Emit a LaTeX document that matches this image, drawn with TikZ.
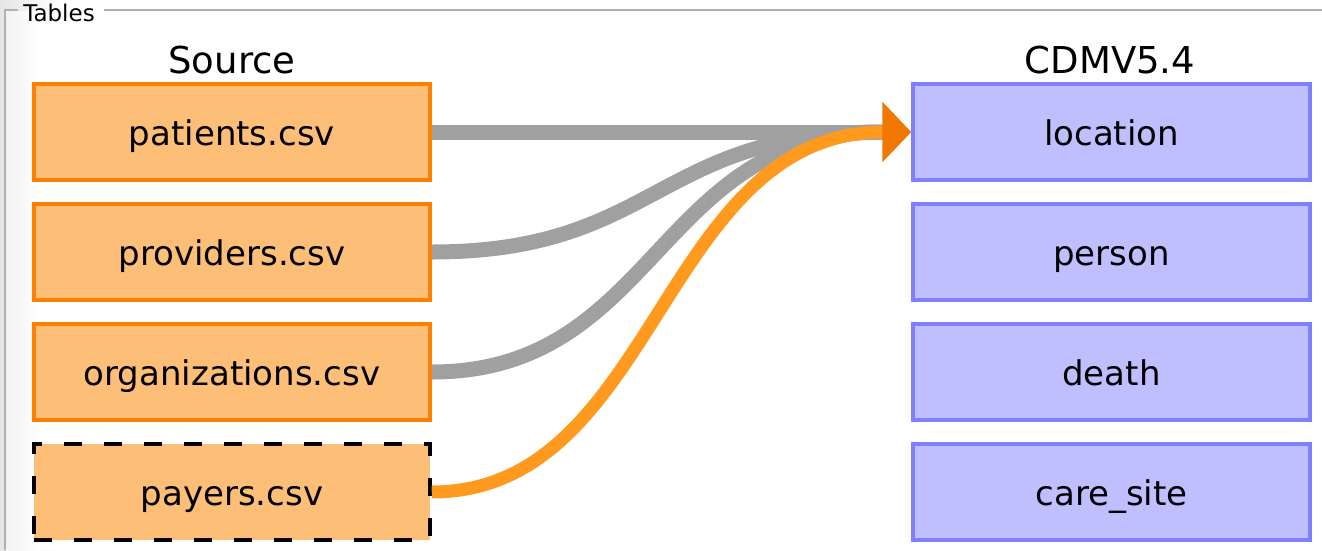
\documentclass[tikz,border=0pt]{standalone}
\usepackage{fontspec}
\setmainfont{DejaVu Sans}
\usetikzlibrary{arrows.meta,positioning}
\definecolor{srcfill}{HTML}{FDBE78}
\definecolor{srcdraw}{HTML}{FF7F00}
\definecolor{cdmfill}{HTML}{BFBFFF}
\definecolor{cdmdraw}{HTML}{8080FF}
\definecolor{linkgray}{HTML}{A0A0A0}
\definecolor{linkorange}{HTML}{FF9A1E}
\definecolor{tiporange}{HTML}{F07800}
\definecolor{framegray}{HTML}{B0B0B0}

\begin{document}
\begin{tikzpicture}[x=1pt, y=-1pt,
  srcbox/.style={draw=srcdraw, fill=srcfill, line width=3.5pt, minimum width=396pt, minimum height=96pt,
    inner sep=0pt, text height=30pt, text depth=4pt, font=\fontsize{34}{40}\selectfont},
  cdmbox/.style={draw=cdmdraw, fill=cdmfill, line width=3.5pt, minimum width=397pt, minimum height=96pt,
    inner sep=0pt, text height=30pt, text depth=4pt, font=\fontsize{34}{40}\selectfont},
  coltitle/.style={anchor=base, font=\fontsize{37}{44}\selectfont},
  maplink/.style={linkgray, line width=15pt},
  mapsel/.style={linkorange, line width=13pt, -{Triangle[length=29pt 0 0, width=59pt 0 0, color=tiporange]}}]

  \useasboundingbox (0,0) rectangle (1322,550);

  % Panel background and frame
  \shade[left color=black!10, right color=white] (0,0) rectangle (60,550);
  \fill[white] (6,11) rectangle (1322,550);
  \shade[left color=black!5, right color=white] (6,11) rectangle (40,550);
  \draw[framegray, line width=2pt] (18,10) -- (5,10) -- (5,550);
  \draw[framegray, line width=2pt] (104,10) -- (1322,10);
  \node[anchor=base, font=\fontsize{23}{28}\selectfont] (tables) at (59,21) {Tables};

  % Column titles
  \node[coltitle] (srctitle) at (232,73) {Source};
  \node[coltitle] (cdmtitle) at (1110,73) {CDMV5.4};

  % Source tables
  \node[srcbox] (patients) at (232,132) {patients.csv};
  \node[srcbox] (providers) at (232,252) {providers.csv};
  \node[srcbox] (organizations) at (232,372) {organizations.csv};
  \node[srcbox, dash pattern=on 18pt off 22pt, draw=black] (payers) at (232,492) {payers.csv};

  % CDM tables
  \node[cdmbox] (location) at (1111.5,132) {location};
  \node[cdmbox] (person) at (1111.5,252) {person};
  \node[cdmbox] (death) at (1111.5,372) {death};
  \node[cdmbox] (caresite) at (1111.5,492) {care\_site};

  % Mappings (gray ones end under the arrow head)
  \coordinate (locin) at ([xshift=-29pt]location.west);
  \draw[maplink] (patients.east) -- (locin);
  \draw[maplink] (providers.east) .. controls +(225,0) and +(-225,0) .. (locin);
  \draw[maplink] (organizations.east) .. controls +(225,0) and +(-225,0) .. (locin);

  % Selected mapping
  \draw[mapsel] (payers.east) .. controls +(225,0) and +(-250,0) .. (location.west);

\end{tikzpicture}
\end{document}
